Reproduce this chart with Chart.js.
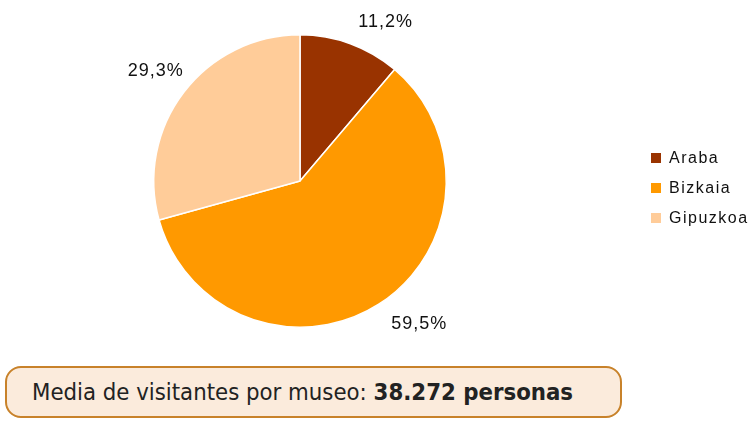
<!DOCTYPE html>
<html>
<head>
<meta charset="utf-8">
<script src="https://cdn.jsdelivr.net/npm/chart.js@4"></script>
<style>
  body { margin: 0; background: #fff; width: 750px; height: 421px; position: relative; overflow: hidden; }
  #wrap { position: absolute; left: 0; top: 0; width: 750px; height: 360px; }
  #media {
    position: absolute; left: 5px; top: 366px; width: 588px; height: 48px;
    background: #fbebdc; border: 2px solid #c8822a; border-radius: 16px;
    font-family: "DejaVu Sans Condensed", "DejaVu Sans", sans-serif; font-size: 23.7px;
    color: #222; line-height: 48px; padding-left: 25px;
  }
  #media b { font-weight: bold; }
</style>
</head>
<body>
<div id="wrap"><canvas id="pie" width="750" height="360"></canvas></div>
<div id="media">Media de visitantes por museo: <b>38.272 personas</b></div>
<script>
var provincias = ['Araba', 'Bizkaia', 'Gipuzkoa'];
var porcentajes = [11.2, 59.5, 29.3];
var colores = ['#993300', '#ff9900', '#ffcc99'];

// etiquetas fuera de cada sector
var etiquetas = {
  id: 'etiquetas',
  afterDatasetsDraw: function(chart)
  {
    var ctx = chart.ctx;
    var arcs = chart.getDatasetMeta(0).data;
    ctx.save();
    ctx.font = '18px "Liberation Sans", Arial, sans-serif';
    ctx.fillStyle = '#111';
    if (ctx.letterSpacing !== undefined) ctx.letterSpacing = '1px';
    for (var i = 0; i < arcs.length; i++)
    {
      var a = arcs[i];
      var mid = (a.startAngle + a.endAngle) / 2;
      var cx = Math.cos(mid), sy = Math.sin(mid);
      var d = cx > 0.2 ? a.outerRadius + 23 : a.outerRadius + 35;
      var x = a.x + cx * d;
      var y = a.y + sy * d;
      ctx.textAlign = cx > 0.2 ? 'left' : 'center';
      ctx.textBaseline = 'middle';
      ctx.fillText(porcentajes[i].toFixed(1).replace('.', ',') + '%', x, y);
    }
    ctx.restore();
  }
};

// leyenda a la derecha, sacada de labels y colores del grafico
var leyenda = {
  id: 'leyenda',
  afterDraw: function(chart)
  {
    var ctx = chart.ctx;
    var labels = chart.data.labels;
    var cols = chart.data.datasets[0].backgroundColor;
    var x0 = 651, y0 = 158, paso = 30;
    ctx.save();
    ctx.font = '16px "Liberation Sans", Arial, sans-serif';
    if (ctx.letterSpacing !== undefined) ctx.letterSpacing = '1.5px';
    ctx.textAlign = 'left';
    ctx.textBaseline = 'middle';
    for (var i = 0; i < labels.length; i++)
    {
      var y = y0 + i * paso;
      ctx.fillStyle = cols[i];
      ctx.fillRect(x0, y - 5, 10, 10);
      ctx.fillStyle = '#111';
      ctx.fillText(labels[i], x0 + 18, y + 1);
    }
    ctx.restore();
  }
};

new Chart(document.getElementById('pie'), {
  type: 'pie',
  data: {
    labels: provincias,
    datasets: [{
      data: porcentajes,
      backgroundColor: colores,
      borderColor: '#ffffff',
      borderWidth: 1.5
    }]
  },
  options: {
    responsive: false,
    animation: false,
    layout: { padding: { top: 34, bottom: 32, left: 0, right: 150 } },
    plugins: {
      tooltip: { enabled: false },
      legend: { display: false }
    }
  },
  plugins: [etiquetas, leyenda]
});
</script>
</body>
</html>
